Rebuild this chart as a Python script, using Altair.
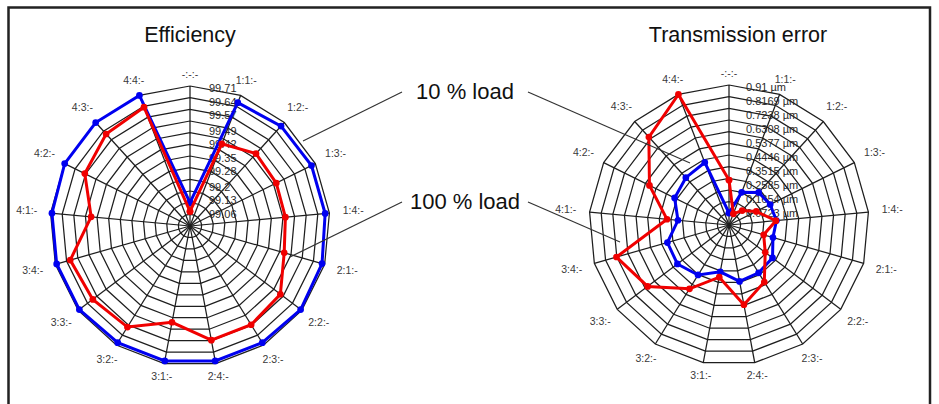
import altair as alt
import pandas as pd

# ---------------------------------------------------------------- data
categories = ["-:-:-", "1:1:-", "1:2:-", "1:3:-", "1:4:-", "2:1:-", "2:2:-", "2:3:-",
              "2:4:-", "3:1:-", "3:2:-", "3:3:-", "3:4:-", "4:1:-", "4:2:-", "4:3:-", "4:4:-"]

# Efficiency [%]
eff_load10 = [99.108, 99.670, 99.685, 99.688, 99.688, 99.696, 99.703, 99.696, 99.696,
              99.696, 99.696, 99.703, 99.703, 99.703, 99.710, 99.710, 99.710]
eff_load100 = [99.063, 99.442, 99.493, 99.485, 99.482, 99.493, 99.572, 99.587, 99.587,
               99.493, 99.601, 99.616, 99.630, 99.500, 99.594, 99.630, 99.645]

# Transmission error [µm]
te_load10 = [0.059, 0.212, 0.272, 0.285, 0.296, 0.283, 0.342, 0.353, 0.361,
             0.296, 0.370, 0.409, 0.405, 0.320, 0.383, 0.405, 0.425]
te_load100 = [0.278, 0.059, 0.109, 0.182, 0.292, 0.219, 0.281, 0.425, 0.518,
              0.332, 0.478, 0.657, 0.757, 0.393, 0.570, 0.770, 0.910]

# radial axis labels
eff_ticks = [99.71, 99.64, 99.57, 99.49, 99.42, 99.35, 99.28, 99.2, 99.13, 99.06]
te_ticks = [0.91, 0.8169, 0.7238, 0.6308, 0.5377, 0.4446, 0.3515, 0.2585, 0.1654, 0.0723]

loads = ["10 % load", "100 % load"]

# ---------------------------------------------------------------- layout
W, H = 939, 404
R = 140          # outer ring radius (px)
N = len(categories)
RINGS = 12

panels = pd.DataFrame({
    "panel": ["eff", "te"],
    "title": ["Efficiency", "Transmission error"],
    "cx": [190, 729],
    "cy": [226, 225],
    "lo": [99.71 - 10 * 0.07222, 0.91 - 10 * 0.09308],
    "hi": [99.71, 0.91],
    "tick_dx": [19, 17],
})
P = panels.set_index("panel")

series = {
    ("eff", loads[0]): eff_load10,
    ("eff", loads[1]): eff_load100,
    ("te", loads[0]): te_load10,
    ("te", loads[1]): te_load100,
}

rows = []
for (pan, load), vals in series.items():
    for seq in range(N + 1):
        rows.append({"panel": pan, "load": load, "seq": seq,
                     "value": vals[seq % N], **P.loc[pan].to_dict()})
series_df = pd.DataFrame(rows)

ring_rows = []
for pan in P.index:
    for k in range(1, RINGS + 1):
        for seq in range(N + 1):
            ring_rows.append({"panel": pan, "ring": k, "seq": seq, "frac": k / RINGS,
                              "cx": P.loc[pan, "cx"], "cy": P.loc[pan, "cy"]})
ring_df = pd.DataFrame(ring_rows)

spoke_rows = []
for pan in P.index:
    for i, cat in enumerate(categories):
        spoke_rows.append({"panel": pan, "seq": i, "cat": cat,
                           "cx": P.loc[pan, "cx"], "cy": P.loc[pan, "cy"]})
spoke_df = pd.DataFrame(spoke_rows)

tick_rows = []
for pan, ticks, unit in [("eff", eff_ticks, ""), ("te", te_ticks, " µm")]:
    for v in ticks:
        tick_rows.append({"panel": pan, "value": v, "label": f"{v}{unit}",
                          **P.loc[pan].to_dict()})
tick_df = pd.DataFrame(tick_rows)

callouts = pd.DataFrame({
    "label": loads,
    "tx": [465, 465], "ty": [92, 202],
})
leaders = pd.DataFrame({
    "label": [loads[0], loads[0], loads[1], loads[1]],
    "x1": [402, 528, 402, 528], "y1": [92, 92, 202, 202],
    "x2": [303, 690, 290, 620], "y2": [141, 163, 257, 242],
})

# ---------------------------------------------------------------- scales
xs = alt.Scale(domain=[0, W], nice=False, zero=False)
ys = alt.Scale(domain=[0, H], nice=False, zero=False, reverse=True)
ANG = f"datum.seq * 2 * PI / {N}"
FONT = "Liberation Sans"


def X(f):
    return alt.X(f"{f}:Q", scale=xs, axis=None)


def Y(f):
    return alt.Y(f"{f}:Q", scale=ys, axis=None)


frame = alt.Chart(pd.DataFrame({"a": [0]})).mark_rect(
    filled=False, stroke="#222222", strokeWidth=2.5
).encode(x=alt.value(8.5), x2=alt.value(930), y=alt.value(7.5), y2=alt.value(440))

rings = alt.Chart(ring_df).transform_calculate(
    px=f"datum.cx + datum.frac * {R} * sin({ANG})",
    py=f"datum.cy - datum.frac * {R} * cos({ANG})",
    key="datum.panel + '_' + datum.ring",
).mark_line(color="#1e1e1e", strokeWidth=1.25).encode(
    x=X("px"), y=Y("py"), detail="key:N", order="seq:Q")

spokes = alt.Chart(spoke_df).transform_calculate(
    px=f"datum.cx + {R} * sin({ANG})",
    py=f"datum.cy - {R} * cos({ANG})",
).mark_rule(color="#1e1e1e", strokeWidth=1.25).encode(
    x=X("cx"), y=Y("cy"), x2="px:Q", y2="py:Q")

cat_labels = alt.Chart(spoke_df).transform_calculate(
    rl=f"{R} + 11 + 13 * abs(sin({ANG}))",
    px=f"datum.cx + datum.rl * sin({ANG})",
    py=f"datum.cy - datum.rl * cos({ANG})",
).mark_text(font=FONT, fontSize=10.5, color="#3a3a3a").encode(
    x=X("px"), y=Y("py"), text="cat:N")

tick_labels = alt.Chart(tick_df).transform_calculate(
    px="datum.cx + datum.tick_dx",
    py=f"datum.cy - (datum.value - datum.lo) / (datum.hi - datum.lo) * {R}",
).mark_text(font=FONT, fontSize=11, color="#2a2a2a", align="left", dy=3).encode(
    x=X("px"), y=Y("py"), text="label:N")

color = alt.Color("load:N", scale=alt.Scale(domain=loads, range=["#0000f0", "#f00000"]),
                  legend=None)


def radar(load):
    base = alt.Chart(series_df).transform_filter(
        alt.datum.load == load
    ).transform_calculate(
        r=f"(datum.value - datum.lo) / (datum.hi - datum.lo) * {R}",
        px=f"datum.cx + datum.r * sin({ANG})",
        py=f"datum.cy - datum.r * cos({ANG})",
    )
    line = base.mark_line(strokeWidth=3).encode(
        x=X("px"), y=Y("py"), color=color, detail="panel:N", order="seq:Q")
    pts = base.mark_circle(size=45, opacity=1).encode(
        x=X("px"), y=Y("py"), color=color)
    return line + pts


titles = alt.Chart(panels).transform_calculate(
    tx="datum.cx + (datum.panel == 'te' ? 9 : 0)", ty="36"
).mark_text(font=FONT, fontSize=21.5, color="#111111").encode(
    x=X("tx"), y=Y("ty"), text="title:N")

leader_lines = alt.Chart(leaders).mark_rule(color="#333333", strokeWidth=1.2).encode(
    x=X("x1"), y=Y("y1"), x2="x2:Q", y2="y2:Q")

callout_text = alt.Chart(callouts).mark_text(
    font=FONT, fontSize=22, color="#111111"
).encode(x=X("tx"), y=Y("ty"), text="label:N")

chart = alt.layer(
    frame, rings, spokes, cat_labels, tick_labels,
    radar(loads[0]), radar(loads[1]),
    titles, leader_lines, callout_text,
).properties(
    width=W, height=H, padding=0, autosize=alt.AutoSizeParams(type="none")
).configure_view(stroke=None)

chart.save("out.html", embed_options={"renderer": "svg", "actions": False})
